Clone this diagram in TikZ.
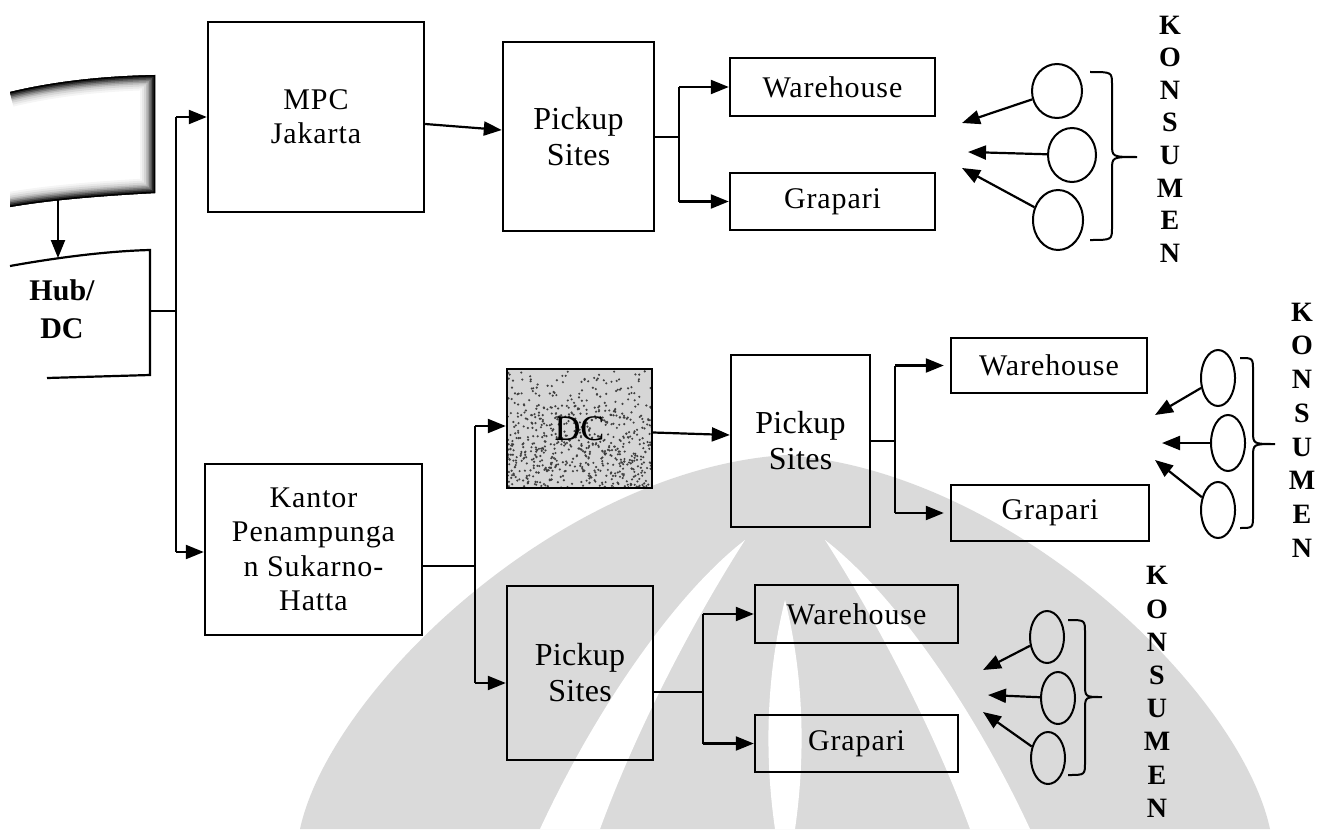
\documentclass[tikz,border=0pt]{standalone}
\usepackage{fontspec}
\setmainfont{Liberation Serif}
\newfontfamily\wideserif[LetterSpace=3]{Liberation Serif}
\newfontfamily\midserif[LetterSpace=1]{Liberation Serif}
\usetikzlibrary{arrows.meta,shapes.geometric}

\definecolor{wmgray}{gray}{0.855}

\tikzset{
  frame/.style={draw, line width=1.2pt, rectangle, inner sep=0pt, align=center},
  conn/.style={line width=1.1pt},
  arr/.style={line width=1.1pt, -{Triangle[length=9pt,width=7pt]}},
  cons/.style={draw, ellipse, line width=1pt, inner sep=0pt},
  kons/.style={align=center, inner sep=0pt},
  mpcfont/.style={font=\fontsize{15}{17}\selectfont\wideserif},
  pickfont/.style={font=\fontsize{16}{18}\selectfont\midserif},
  destfont/.style={font=\fontsize{15}{17}\selectfont\wideserif},
  kantorfont/.style={font=\fontsize{15}{17.2}\selectfont\wideserif},
}

% box given by its corners (x1,y1) (x2,y2)
\newcommand{\bx}[7]{%
  \node[frame,#7,minimum width={(#4-#2)*0.5pt},minimum height={(#5-#3)*0.5pt}]
    (#1) at ({(#2+#4)/2},{(#3+#5)/2}) {#6};}

% curly brace: ends at x=#1, spine x=#2, tip x=#3, top #4, bottom #5, middle #6
\newcommand{\curly}[6]{%
  \draw[line width=1pt] (#1,#4) .. controls (#2,#4) .. (#2,#4+13) -- (#2,#6-13)
    .. controls (#2,#6) .. (#3,#6) .. controls (#2,#6) .. (#2,#6+13)
    -- (#2,#5-13) .. controls (#2,#5) .. (#1,#5);}

\begin{document}
\begin{tikzpicture}[x=0.5pt,y=-0.5pt]
\useasboundingbox (0,0) rectangle (1320,829);

% ---------- faint emblem in the background ----------
\fill[wmgray] (300,829) .. controls (330,690) and (560,470) .. (785,455)
      .. controls (1010,470) and (1240,690) .. (1270,829) -- cycle;
\fill[white] (540,829) .. controls (600,700) and (680,590) .. (745,540)
      .. controls (700,610) and (640,720) .. (600,829) -- cycle;
\fill[white] (1030,829) .. controls (970,700) and (890,590) .. (825,540)
      .. controls (870,610) and (930,720) .. (970,829) -- cycle;
\fill[white] (785,600) .. controls (805,680) and (805,760) .. (795,829)
      -- (775,829) .. controls (765,760) and (765,680) .. (785,600) -- cycle;

% ---------- shaded source panel ----------
\begin{scope}
  \clip (10,92) .. controls (60,80) and (110,76) .. (155,75) -- (155,193)
        .. controls (100,196) and (50,200) .. (10,207) -- cycle;
  \foreach \w/\c in {30/4,26/9,22/16,18/26,15/38,12/52,9/68,6/84,3/100}{
    \draw[line width=\w*0.5pt, black!\c, line join=miter]
      (10,92) .. controls (60,80) and (110,76) .. (155,75) -- (155,193)
      .. controls (100,196) and (50,200) .. (10,207);
  }
\end{scope}
\coordinate (srcS) at (58,200);

% ---------- Hub / DC ----------
\draw[conn] (10,266) .. controls (60,257) and (110,251) .. (150,250) -- (150,375) -- (47,378);
\node[kons, font=\fontsize{15}{19}\selectfont\bfseries] (hub) at (62,309) {Hub/\\DC};
\coordinate (hubN) at (58,258);
\coordinate (hubE) at (150,311);
\draw[arr] (srcS) -- (hubN);

% ---------- boxes ----------
\bx{mpc}{208}{22}{424}{212}{MPC\\Jakarta}{mpcfont}
\bx{pick1}{503}{42}{654}{231}{Pickup\\Sites}{pickfont}
\bx{wh1}{730}{58}{935}{116}{Warehouse}{destfont}
\bx{gr1}{730}{173}{935}{230}{Grapari}{destfont}

\bx{kantor}{205}{464}{422}{635}{Kantor\\Penampunga\\n Sukarno-\\Hatta}{kantorfont}

% speckled DC box
\begin{scope}
  \clip (507,369) rectangle (652,488);
  \fill[black!16] (507,369) rectangle (652,488);
  \pgfmathsetseed{11}
  \foreach \i in {1,...,700}{
    \pgfmathsetmacro\xx{507+145*rnd}
    \pgfmathsetmacro\yy{369+119*(rnd^0.6)}
    \fill[black!75] (\xx,\yy) circle (0.6pt);
  }
\end{scope}
\bx{dc}{507}{369}{652}{488}{DC}{font=\fontsize{18}{20}\selectfont}

\bx{pick2}{731}{355}{870}{527}{Pickup\\Sites}{pickfont}
\bx{wh2}{951}{338}{1147}{393}{Warehouse}{destfont}
\bx{gr2}{951}{485}{1149}{541}{Grapari}{destfont}

\bx{pick3}{507}{586}{653}{760}{Pickup\\Sites}{pickfont}
\bx{wh3}{755}{585}{958}{643}{Warehouse}{destfont}
\bx{gr3}{755}{715}{958}{772}{Grapari}{destfont}

% ---------- trunk from Hub/DC ----------
\coordinate (jTop) at (176,117);
\coordinate (jBot) at (176,552);
\draw[conn] (hubE) -- (hubE -| jTop);
\draw[conn] (jTop) -- (jBot);
\draw[arr] (jTop) -- (mpc.west);
\draw[arr] (jBot) -- (kantor.west |- jBot);

% ---------- upper chain ----------
\draw[arr] ([yshift=-3.5pt]mpc.east) -- ([yshift=3.25pt]pick1.west);
\coordinate (b1) at (679,137);
\draw[conn] (pick1.east |- b1) -- (b1);
\draw[conn] (b1 |- wh1.west) -- (b1 |- gr1.west);
\draw[arr] (b1 |- wh1.west) -- (wh1.west);
\draw[arr] (b1 |- gr1.west) -- (gr1.west);

% ---------- lower chains ----------
\coordinate (kJ) at (475,566);
\coordinate (dJ) at (475,426);
\coordinate (pJ) at (475,683);
\draw[conn] (kantor.east |- kJ) -- (kJ);
\draw[conn] (dJ) -- (pJ);
\draw[arr] (dJ) -- (dc.west |- dJ);
\draw[arr] (pJ) -- (pick3.west |- pJ);

\draw[arr] ([yshift=-2pt]dc.east) -- ([yshift=3pt]pick2.west);
\coordinate (b2) at (895,441);
\draw[conn] (pick2.east |- b2) -- (b2);
\draw[conn] (b2 |- wh2.west) -- (b2 |- gr2.west);
\draw[arr, shorten >=3pt] (b2 |- wh2.west) -- (wh2.west);
\draw[arr, shorten >=3pt] (b2 |- gr2.west) -- (gr2.west);

\coordinate (b3) at (703,692);
\draw[conn] (pick3.east |- b3) -- (b3);
\draw[conn] (b3 |- wh3.west) -- (b3 |- gr3.west);
\draw[arr] (b3 |- wh3.west) -- (wh3.west);
\draw[arr] (b3 |- gr3.west) -- (gr3.west);

% ---------- consumers, group 1 ----------
\node[cons, minimum width=25pt, minimum height=27pt] (c11) at (1057,91) {};
\node[cons, minimum width=24pt, minimum height=27pt] (c12) at (1072,155) {};
\node[cons, minimum width=25pt, minimum height=30pt] (c13) at (1058,220) {};
\coordinate (a11) at (962,123);
\coordinate (a12) at (968,152);
\coordinate (a13) at (962,168);
\draw[arr] (c11) -- (a11);
\draw[arr] (c12) -- (a12);
\draw[arr] (c13) -- (a13);
\curly{1090}{1112}{1137}{72}{240}{157}
\node[kons, font=\fontsize{14}{16.3}\selectfont\bfseries] (kn1) at (1170,139) {K\\O\\N\\S\\U\\M\\E\\N};

% ---------- consumers, group 2 ----------
\node[cons, minimum width=17pt, minimum height=28pt] (c21) at (1218,378) {};
\node[cons, minimum width=17pt, minimum height=28pt] (c22) at (1228,443) {};
\node[cons, minimum width=17pt, minimum height=28pt] (c23) at (1218,510) {};
\coordinate (a21) at (1155,415);
\coordinate (a22) at (1162,443);
\coordinate (a23) at (1155,460);
\draw[arr] (c21) -- (a21);
\draw[arr] (c22) -- (a22);
\draw[arr] (c23) -- (a23);
\curly{1240}{1253}{1275}{358}{528}{444}
\node[kons, font=\fontsize{14}{16.85}\selectfont\bfseries] (kn2) at (1302,430) {K\\O\\N\\S\\U\\M\\E\\N};

% ---------- consumers, group 3 ----------
\node[cons, minimum width=17pt, minimum height=26pt] (c31) at (1047,637) {};
\node[cons, minimum width=17pt, minimum height=26pt] (c32) at (1058,698) {};
\node[cons, minimum width=17pt, minimum height=26pt] (c33) at (1048,758) {};
\coordinate (a31) at (983,670);
\coordinate (a32) at (988,695);
\coordinate (a33) at (983,712);
\draw[arr] (c31) -- (a31);
\draw[arr] (c32) -- (a32);
\draw[arr] (c33) -- (a33);
\curly{1068}{1085}{1102}{620}{775}{697}
\node[kons, font=\fontsize{14}{16.6}\selectfont\bfseries] (kn3) at (1157,692) {K\\O\\N\\S\\U\\M\\E\\N};
\end{tikzpicture}
\end{document}
